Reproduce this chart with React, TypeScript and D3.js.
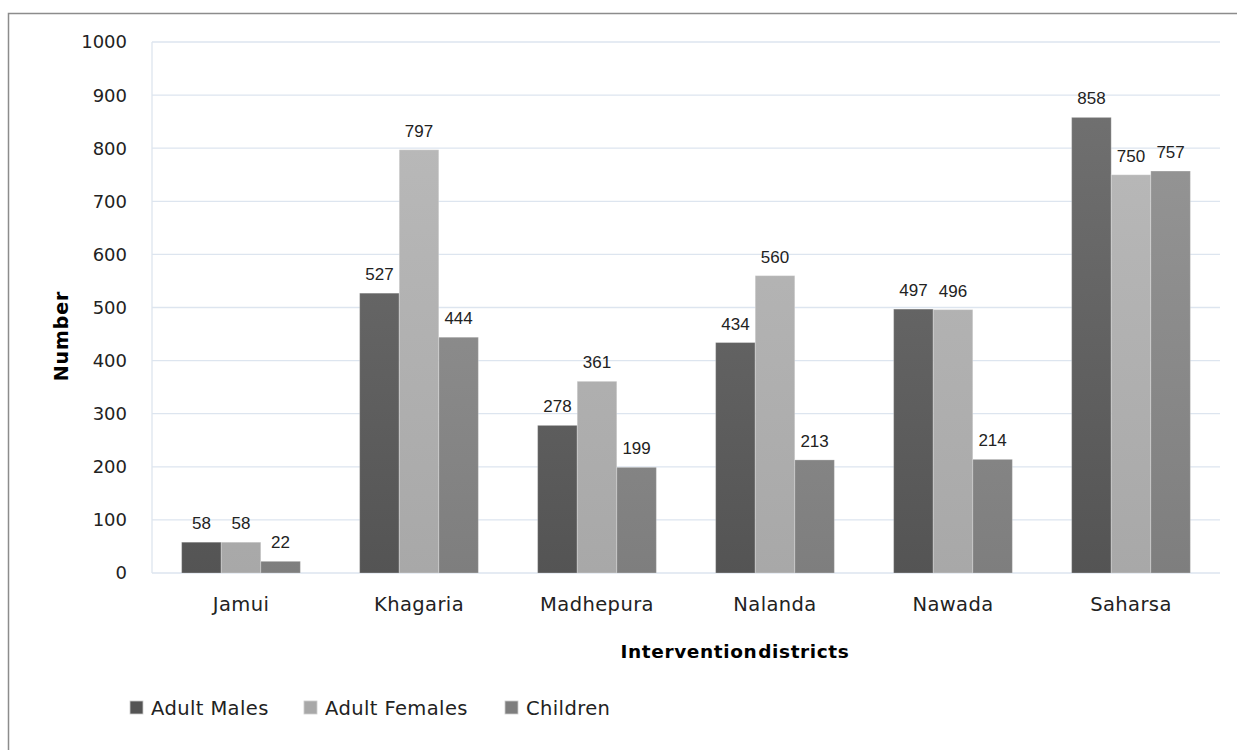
import React from "react";
import * as d3 from "d3";

const districts = ["Jamui", "Khagaria", "Madhepura", "Nalanda", "Nawada", "Saharsa"];
const seriesNames = ["Adult Males", "Adult Females", "Children"];
const adultMales = [58, 527, 278, 434, 497, 858];
const adultFemales = [58, 797, 361, 560, 496, 750];
const children = [22, 444, 199, 213, 214, 757];
const yTicks = [0, 100, 200, 300, 400, 500, 600, 700, 800, 900, 1000];
const gradStops = [
  ["#747474", "#545454"],
  ["#bcbcbc", "#a8a8a8"],
  ["#9a9a9a", "#7e7e7e"],
];

const W = 1237;
const H = 750;
const FONT = "'DejaVu Sans', 'Open Sans', sans-serif";

export default function App() {
  const left = 152, right = 1220, top = 42, bottom = 573;
  const x = d3.scaleBand<string>().domain(districts).range([left, right]).paddingInner(0.333).paddingOuter(0.1665);
  const y = d3.scaleLinear().domain([0, 1000]).range([bottom, top]);
  const xs = d3.scaleBand<number>().domain([0, 1, 2]).range([0, x.bandwidth()]);
  const series = [adultMales, adultFemales, children];

  return (
    <div style={{ position: "absolute", left: 0, top: 0, width: W, height: H, overflow: "hidden" }}>
      <svg width={W} height={H} style={{ display: "block", background: "#fff" }}>
        <defs>
          {gradStops.map((g, i) => (
            <linearGradient key={i} id={`g${i}`} gradientUnits="userSpaceOnUse" x1={0} y1={top} x2={0} y2={bottom}>
              <stop offset="0" stopColor={g[0]} />
              <stop offset="1" stopColor={g[1]} />
            </linearGradient>
          ))}
        </defs>
        <rect x={8.5} y={13.5} width={W + 20} height={H + 20} fill="none" stroke="#8c8c8c" strokeWidth={1.5} />
        {yTicks.map((t) => (
          <g key={t}>
            <line x1={left} x2={right} y1={y(t)} y2={y(t)} stroke="#dde5ef" strokeWidth={1.3} />
            <text x={127} y={y(t)} dy="0.36em" textAnchor="end" fontFamily={FONT} fontSize={18} fill="#222">
              {t}
            </text>
          </g>
        ))}
        <line x1={left} x2={left} y1={top} y2={bottom} stroke="#dde5ef" strokeWidth={1.3} />
        {districts.map((d, di) => (
          <g key={d}>
            {series.map((s, si) => {
              const bx = (x(d) as number) + (xs(si) as number);
              const by = y(s[di]);
              return (
                <g key={si}>
                  <rect x={bx} y={by} width={xs.bandwidth()} height={bottom - by} fill={`url(#g${si})`} stroke="rgba(255,255,255,0.25)" strokeWidth={1} />
                  <text x={bx + xs.bandwidth() / 2} y={by - 13} textAnchor="middle" fontFamily="'Liberation Sans', Arial, sans-serif" fontSize={17} fill="#222">
                    {s[di]}
                  </text>
                </g>
              );
            })}
            <text x={(x(d) as number) + x.bandwidth() / 2} y={611} textAnchor="middle" fontFamily={FONT} fontSize={19.5} letterSpacing={0.4} fill="#222">
              {d}
            </text>
          </g>
        ))}
        <text x={735} y={658} textAnchor="middle" fontFamily={FONT} fontSize={18.5} fontWeight="bold" letterSpacing={0.6} fill="#000" wordSpacing={-6}>
          Intervention districts
        </text>
        <text transform={`translate(68,336) rotate(-90)`} textAnchor="middle" fontFamily={FONT} fontSize={19} fontWeight="bold" letterSpacing={0.9} fill="#000">
          Number
        </text>
        {seriesNames.map((n, i) => {
          const lx = [130, 304, 505][i];
          return (
            <g key={n}>
              <rect x={lx} y={701} width={13} height={13} fill={`url(#g${i})`} stroke="#ccc" strokeWidth={0.8} />
              <text x={lx + 21} y={715} fontFamily={FONT} fontSize={19.5} letterSpacing={0.4} fill="#222">
                {n}
              </text>
            </g>
          );
        })}
      </svg>
    </div>
  );
}
